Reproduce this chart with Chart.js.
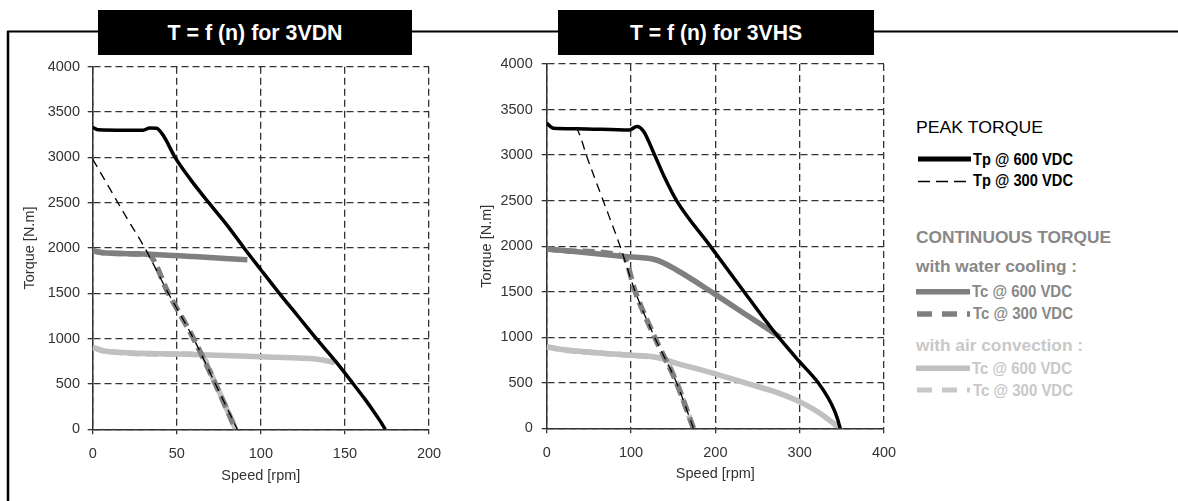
<!DOCTYPE html>
<html><head><meta charset="utf-8">
<script src="https://cdn.jsdelivr.net/npm/chart.js@4.4.1/dist/chart.umd.min.js"></script>
<style>
html,body{margin:0;padding:0;background:#fff;width:1178px;height:501px;overflow:hidden;}
canvas,svg{position:absolute;left:0;top:0;}
.narrow{font-family:"Liberation Sans Narrow","Arial Narrow","Liberation Sans",Arial,sans-serif;font-weight:bold;font-size:17px;}
.reg{font-family:"Liberation Sans",Arial,sans-serif;font-size:17px;}
</style></head><body>
<svg width="1178" height="501">
  <line x1="7" y1="31.5" x2="1178" y2="31.5" stroke="#000" stroke-width="2"/>
  <line x1="8" y1="31" x2="8" y2="501" stroke="#000" stroke-width="2.5"/>
  <rect x="98" y="10" width="314" height="45" fill="#000"/>
  <rect x="558" y="10" width="316" height="45" fill="#000"/>
  <text x="255" y="39.5" text-anchor="middle" fill="#fff" font-family="Liberation Sans, Arial, sans-serif" font-weight="bold" font-size="22" textLength="175" lengthAdjust="spacingAndGlyphs">T = f (n) for 3VDN</text>
  <text x="716" y="39.5" text-anchor="middle" fill="#fff" font-family="Liberation Sans, Arial, sans-serif" font-weight="bold" font-size="22" textLength="172" lengthAdjust="spacingAndGlyphs">T = f (n) for 3VHS</text>

  <text class="reg" x="916" y="132.5" fill="#000" textLength="127" lengthAdjust="spacingAndGlyphs">PEAK TORQUE</text>
  <rect x="918" y="156.5" width="53" height="5" fill="#000"/>
  <text class="narrow" x="973" y="165" fill="#000" textLength="100" lengthAdjust="spacingAndGlyphs">Tp @ 600 VDC</text>
  <line x1="918" y1="181.5" x2="968" y2="181.5" stroke="#000" stroke-width="1.3" stroke-dasharray="12 6"/>
  <text class="narrow" x="973" y="185.5" fill="#000" textLength="100" lengthAdjust="spacingAndGlyphs">Tp @ 300 VDC</text>

  <text class="reg" x="916" y="243.3" fill="#888" font-weight="bold" textLength="195" lengthAdjust="spacingAndGlyphs">CONTINUOUS TORQUE</text>
  <text class="reg" x="916" y="271.7" fill="#888" font-weight="bold" textLength="161" lengthAdjust="spacingAndGlyphs">with water cooling :</text>
  <rect x="916" y="289" width="54" height="5.5" fill="#7f7f7f"/>
  <text class="narrow" x="972" y="296.7" fill="#888" textLength="100" lengthAdjust="spacingAndGlyphs">Tc @ 600 VDC</text>
  <line x1="917" y1="314" x2="970" y2="314" stroke="#7f7f7f" stroke-width="5.5" stroke-dasharray="15 10"/>
  <text class="narrow" x="973" y="319" fill="#888" textLength="100" lengthAdjust="spacingAndGlyphs">Tc @ 300 VDC</text>

  <text class="reg" x="916" y="350.7" fill="#c8c8c8" font-weight="bold" textLength="167" lengthAdjust="spacingAndGlyphs">with air convection :</text>
  <rect x="916" y="365.5" width="54" height="5.5" fill="#c0c0c0"/>
  <text class="narrow" x="972" y="374" fill="#c8c8c8" textLength="100" lengthAdjust="spacingAndGlyphs">Tc @ 600 VDC</text>
  <line x1="917" y1="390" x2="970" y2="390" stroke="#c8c8c8" stroke-width="5" stroke-dasharray="15 10"/>
  <text class="narrow" x="973" y="395.5" fill="#c8c8c8" textLength="100" lengthAdjust="spacingAndGlyphs">Tc @ 300 VDC</text>
</svg>
<canvas id="c1" width="1178" height="501"></canvas>
<canvas id="c2" width="1178" height="501"></canvas>
<script>
// ---------- 3VDN data ----------
const vdnTp600Speed  = [0, 3, 20, 30, 34, 38, 42, 49, 58, 69, 80, 90, 100, 111, 122, 133, 144, 155, 162, 167, 171, 174];
const vdnTp600Torque = [3330, 3305, 3300, 3300, 3325, 3322, 3240, 3000, 2760, 2500, 2250, 2000, 1760, 1500, 1250, 1000, 760, 500, 330, 200, 90, 0];
const vdnTp300Speed  = [0, 10, 20, 31, 45, 60, 73, 86];
const vdnTp300Torque = [2980, 2660, 2340, 2000, 1500, 1000, 500, 0];
const vdnTcWater600Speed  = [0, 5, 30, 60, 92];
const vdnTcWater600Torque = [1970, 1950, 1935, 1905, 1870];
const vdnTcWater300Speed  = [0, 5, 30, 33, 45, 60, 73, 85];
const vdnTcWater300Torque = [1970, 1950, 1935, 1930, 1500, 1000, 500, 0];
const vdnTcAir600Speed  = [0, 8, 50, 100, 125, 135, 144];
const vdnTcAir600Torque = [905, 860, 830, 800, 785, 770, 735];
const vdnTcAir300Speed  = [0, 8, 50, 64, 73, 85];
const vdnTcAir300Torque = [905, 860, 830, 825, 500, 0];

// ---------- 3VHS data ----------
const vhsTp600Speed  = [0, 8, 35, 98, 107, 115, 128, 140, 154, 194, 234, 254, 275, 298, 322, 334, 341, 345, 348];
const vhsTp600Torque = [3350, 3295, 3290, 3275, 3315, 3260, 3000, 2750, 2500, 2000, 1500, 1250, 1000, 750, 500, 330, 200, 100, 0];
const vhsTp300Speed  = [0, 8, 35, 40, 47, 67, 87, 105, 128, 154, 174];
const vhsTp300Torque = [3350, 3295, 3290, 3200, 3000, 2500, 2000, 1500, 1000, 500, 0];
const vhsTcWater600Speed  = [0, 30, 95, 130, 154, 198, 237, 277];
const vhsTcWater600Torque = [1968, 1945, 1884, 1848, 1738, 1482, 1244, 1000];
const vhsTcWater300Speed  = [0, 30, 91, 105, 128, 154, 174];
const vhsTcWater300Torque = [1968, 1945, 1888, 1500, 1000, 500, 0];
const vhsTcAir600Speed  = [0, 16, 95, 130, 154, 198, 237, 276, 304, 324, 340, 348];
const vhsTcAir600Torque = [896, 867, 805, 779, 713, 604, 494, 384, 274, 165, 55, 0];
const vhsTcAir300Speed  = [0, 16, 95, 130, 141, 154, 174];
const vhsTcAir300Torque = [896, 867, 805, 779, 748, 500, 0];

const yTicks = [0, 500, 1000, 1500, 2000, 2500, 3000, 3500, 4000];
const vdnXTicks = [0, 50, 100, 150, 200];
const vhsXTicks = [0, 100, 200, 300, 400];

const labelsList = ['Tp @ 600 VDC', 'Tp @ 300 VDC', 'Tc @ 600 VDC (water)', 'Tc @ 300 VDC (water)', 'Tc @ 600 VDC (air)', 'Tc @ 300 VDC (air)'];

function pts(xs, ys) { return xs.map((x, i) => ({x: x, y: ys[i]})); }

const styles = [
  {borderColor: '#000', borderWidth: 3.5, borderDash: []},
  {borderColor: '#000', borderWidth: 1.3, borderDash: [9, 6]},
  {borderColor: '#7f7f7f', borderWidth: 5.5, borderDash: []},
  {borderColor: '#7f7f7f', borderWidth: 5.5, borderDash: [12, 6]},
  {borderColor: '#c0c0c0', borderWidth: 5.5, borderDash: []},
  {borderColor: '#c0c0c0', borderWidth: 5.5, borderDash: [12, 6]}
];

function makeChart(id, series, xTicks, geo) {
  const datasets = series.map((s, i) => Object.assign({
    label: labelsList[i],
    data: pts(s[0], s[1]),
    pointRadius: 0,
    fill: false,
    cubicInterpolationMode: 'monotone',
    borderCapStyle: 'butt'
  }, styles[i]));
  const fontFam = '"Liberation Sans", Arial, sans-serif';
  const gridOpts = {color: '#333', lineWidth: 1.3, tickLength: 5, tickColor: '#333', tickBorderDash: [], tickWidth: 1.3};
  const borderOpts = {display: true, color: '#333', width: 1.5, dash: [7, 4]};
  return new Chart(document.getElementById(id), {
    type: 'line',
    data: {datasets: datasets},
    options: {
      responsive: false, animation: false,
      layout: {padding: {left: geo.padL, top: geo.top, right: 1178 - geo.right, bottom: 10}},
      plugins: {legend: {display: false}, tooltip: {enabled: false}},
      scales: {
        x: {
          type: 'linear', min: xTicks[0], max: xTicks[xTicks.length - 1],
          afterBuildTicks: s => { s.ticks = xTicks.map(v => ({value: v})); },
          afterFit: s => { s.height = 491 - geo.bottom; },
          ticks: {font: {family: fontFam, size: 14.5}, color: '#333', padding: geo.xPad, maxRotation: 0, callback: v => String(v)},
          grid: gridOpts,
          border: borderOpts,
          title: {display: true, text: 'Speed [rpm]', color: '#333', font: {family: fontFam, size: 14.5}, padding: {top: 0, bottom: geo.xTitlePad}}
        },
        y: {
          type: 'linear', min: 0, max: 4000,
          afterBuildTicks: s => { s.ticks = yTicks.map(v => ({value: v})); },
          afterFit: s => { s.width = geo.left - geo.padL; },
          ticks: {font: {family: fontFam, size: 14.5}, color: '#333', padding: geo.yPad, callback: v => String(v)},
          grid: gridOpts,
          border: borderOpts,
          title: {display: true, text: 'Torque [N.m]', color: '#333', font: {family: fontFam, size: 14.5}, padding: {top: geo.yTitlePad, bottom: 0}}
        }
      }
    }
  });
}

makeChart('c1', [
  [vdnTp600Speed, vdnTp600Torque],
  [vdnTp300Speed, vdnTp300Torque],
  [vdnTcWater600Speed, vdnTcWater600Torque],
  [vdnTcWater300Speed, vdnTcWater300Torque],
  [vdnTcAir600Speed, vdnTcAir600Torque],
  [vdnTcAir300Speed, vdnTcAir300Torque]
], vdnXTicks, {padL: 15, left: 92.7, right: 429, top: 66.7, bottom: 429.3, xPad: 11, yPad: 7.7, xTitlePad: 6, yTitlePad: 6.3});

makeChart('c2', [
  [vhsTp600Speed, vhsTp600Torque],
  [vhsTp300Speed, vhsTp300Torque],
  [vhsTcWater600Speed, vhsTcWater600Torque],
  [vhsTcWater300Speed, vhsTcWater300Torque],
  [vhsTcAir600Speed, vhsTcAir600Torque],
  [vhsTcAir300Speed, vhsTcAir300Torque]
], vhsXTicks, {padL: 471, left: 546.7, right: 884, top: 64, bottom: 428.3, xPad: 11, yPad: 9, xTitlePad: 8.5, yTitlePad: 7});
</script>
</body></html>
